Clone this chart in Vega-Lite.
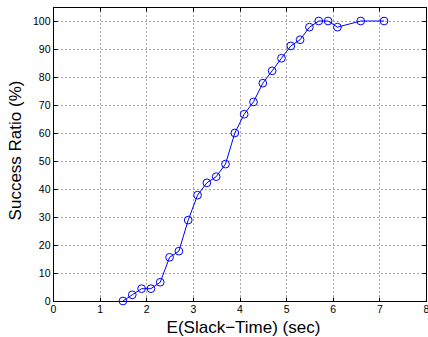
{
  "$schema": "https://vega.github.io/schema/vega-lite/v6.json",
  "width": 373,
  "height": 294,
  "autosize": {"type": "none"},
  "padding": {"left": 53, "top": 7, "right": 2, "bottom": 36},
  "background": "white",
  "data": {"values": [
    {"slack": 1.5, "ratio": 0},
    {"slack": 1.7, "ratio": 2.2},
    {"slack": 1.9, "ratio": 4.4},
    {"slack": 2.1, "ratio": 4.4},
    {"slack": 2.3, "ratio": 6.7},
    {"slack": 2.5, "ratio": 15.6},
    {"slack": 2.7, "ratio": 17.8},
    {"slack": 2.9, "ratio": 28.9},
    {"slack": 3.1, "ratio": 37.8},
    {"slack": 3.3, "ratio": 42.2},
    {"slack": 3.5, "ratio": 44.4},
    {"slack": 3.7, "ratio": 48.9},
    {"slack": 3.9, "ratio": 60.0},
    {"slack": 4.1, "ratio": 66.7},
    {"slack": 4.3, "ratio": 71.1},
    {"slack": 4.5, "ratio": 77.8},
    {"slack": 4.7, "ratio": 82.2},
    {"slack": 4.9, "ratio": 86.7},
    {"slack": 5.1, "ratio": 91.1},
    {"slack": 5.3, "ratio": 93.3},
    {"slack": 5.5, "ratio": 97.8},
    {"slack": 5.7, "ratio": 100},
    {"slack": 5.9, "ratio": 100},
    {"slack": 6.1, "ratio": 97.8},
    {"slack": 6.6, "ratio": 100},
    {"slack": 7.1, "ratio": 100}
  ]},
  "layer": [
    {
      "mark": {"type": "line", "color": "#0000ff", "strokeWidth": 1, "clip": true},
      "encoding": {
        "x": {"field": "slack", "type": "quantitative", "scale": {"domain": [0, 8], "nice": false},
          "axis": {"orient": "bottom", "values": [0,1,2,3,4,5,6,7,8], "title": "E(Slack\u2212Time) (sec)", "grid": true,
            "titleX": 190, "titleY": 31.5, "titleBaseline": "alphabetic", "titleAlign": "center"}},
        "y": {"field": "ratio", "type": "quantitative", "scale": {"domain": [0, 105], "nice": false},
          "axis": {"orient": "left", "values": [0,10,20,30,40,50,60,70,80,90,100], "title": "Success Ratio (%)", "grid": true,
            "titleX": -37.5, "titleY": 143, "titleBaseline": "middle", "titleAlign": "center", "titleAngle": -90}}
      }
    },
    {
      "mark": {"type": "point", "shape": "circle", "filled": false, "color": "#0000ff", "size": 60, "strokeWidth": 1, "opacity": 1},
      "encoding": {
        "x": {"field": "slack", "type": "quantitative", "axis": null},
        "y": {"field": "ratio", "type": "quantitative", "axis": null}
      }
    },
    {
      "mark": {"type": "point", "opacity": 0},
      "encoding": {
        "x": {"field": "slack", "type": "quantitative",
          "axis": {"orient": "top", "values": [0,1,2,3,4,5,6,7,8], "labels": false, "title": null, "grid": false}},
        "y": {"field": "ratio", "type": "quantitative",
          "axis": {"orient": "right", "values": [0,10,20,30,40,50,60,70,80,90,100], "labels": false, "title": null, "grid": false}}
      }
    }
  ],
  "resolve": {"axis": {"x": "independent", "y": "independent"}},
  "config": {
    "view": {"stroke": "black", "strokeWidth": 1},
    "font": "Liberation Sans",
    "axis": {
      "domainColor": "black",
      "domainWidth": 1,
      "tickColor": "black",
      "tickSize": -4,
      "tickWidth": 1,
      "labelColor": "black",
      "labelFont": "Liberation Sans",
      "labelFontSize": 10.5,
      "labelPadding": 7,
      "labelFlush": false,
      "labelOverlap": false,
      "titleFont": "Liberation Sans",
      "titleFontSize": 17,
      "titleFontWeight": "normal",
      "titleColor": "black",
      "gridColor": "black",
      "gridDash": [1, 3],
      "gridOpacity": 0.7,
      "gridWidth": 1
    }
  }
}
